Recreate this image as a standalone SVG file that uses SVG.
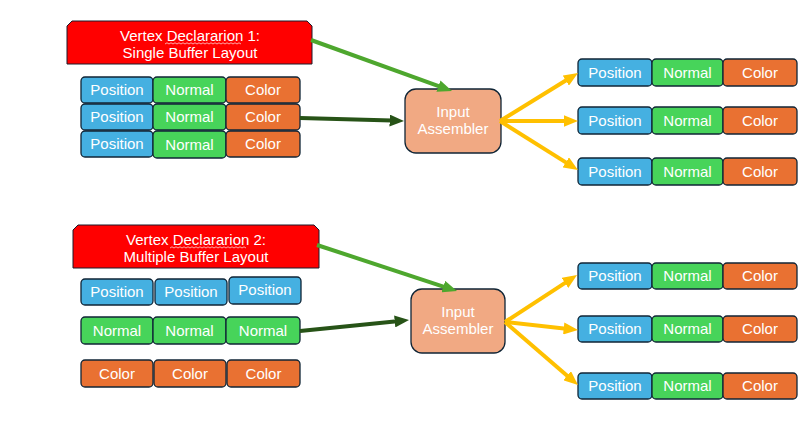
<svg xmlns="http://www.w3.org/2000/svg" width="809" height="430" viewBox="0 0 809 430">
<style>
text{font-family:"Liberation Sans",Arial,sans-serif;font-size:15px;fill:#fff;text-anchor:middle}
.c{stroke:#102536;stroke-width:1.3}
.pos{fill:#45B0E1}.nor{fill:#47D45A}.col{fill:#E97132}
.ban{fill:#FF0000;stroke:#1a1a2a;stroke-width:1}
.ia{fill:#F1A983;stroke:#102536;stroke-width:1.3}
.sq{fill:none;stroke:#ffd0d0;stroke-width:0.8}
.a{fill:none;stroke-width:4}
.g{stroke:#4EA72E}.dg{stroke:#275317}.y{stroke:#FFC000}
</style>
<defs>
<marker id="mg" viewBox="0 0 12 10" refX="2" refY="5" markerWidth="3.6" markerHeight="3" orient="auto"><path d="M0,0 L12,5 L0,10 z" fill="#4EA72E"/></marker>
<marker id="mdg" viewBox="0 0 12 10" refX="2" refY="5" markerWidth="3.6" markerHeight="3" orient="auto"><path d="M0,0 L12,5 L0,10 z" fill="#275317"/></marker>
<marker id="my" viewBox="0 0 12 10" refX="2" refY="5" markerWidth="3.6" markerHeight="3" orient="auto"><path d="M0,0 L12,5 L0,10 z" fill="#FFC000"/></marker>
</defs>
<rect width="809" height="430" fill="#fff"/>

<!-- Top section -->
<g id="decl1">
<path class="ban" d="M72,21 L307,21 L312,26 L312,64 L67,64 L67,26 Z"/>
<text x="190" y="41">Vertex Declararion 1:</text>
<text x="190" y="58">Single Buffer Layout</text>
<path class="sq" d="M165,44 l2,-1.2 l2,1.2 l2,-1.2 l2,1.2 l2,-1.2 l2,1.2 l2,-1.2 l2,1.2 l2,-1.2 l2,1.2 l2,-1.2 l2,1.2 l2,-1.2 l2,1.2 l2,-1.2 l2,1.2 l2,-1.2 l2,1.2 l2,-1.2 l2,1.2 l2,-1.2 l2,1.2 l2,-1.2 l2,1.2 l2,-1.2 l2,1.2 l2,-1.2 l2,1.2 l2,-1.2 l2,1.2 l2,-1.2 l2,1.2 l2,-1.2 l2,1.2 l2,-1.2 l2,1.2 l2,-1.2 l2,1.2"/>
</g>
<g id="buf1">
<rect class="c pos" x="81" y="77" width="72" height="26" rx="4"/><text x="117" y="95">Position</text>
<rect class="c nor" x="153" y="77" width="73" height="26" rx="4"/><text x="189.5" y="95">Normal</text>
<rect class="c col" x="226" y="77" width="74" height="26" rx="4"/><text x="263" y="95">Color</text>
<rect class="c pos" x="81" y="104" width="72" height="26" rx="4"/><text x="117" y="122">Position</text>
<rect class="c nor" x="153" y="104" width="73" height="26" rx="4"/><text x="189.5" y="122">Normal</text>
<rect class="c col" x="226" y="104" width="74" height="26" rx="4"/><text x="263" y="122">Color</text>
<rect class="c pos" x="81" y="131" width="72" height="26" rx="4"/><text x="117" y="149">Position</text>
<rect class="c nor" x="153" y="131" width="73" height="27" rx="4"/><text x="189.5" y="150">Normal</text>
<rect class="c col" x="226" y="131" width="74" height="26" rx="4"/><text x="263" y="149">Color</text>
</g>
<g id="ia1">
<rect class="ia" x="405" y="89" width="96" height="64" rx="11"/>
<text x="453" y="117">Input</text>
<text x="453" y="134">Assembler</text>
</g>
<g id="out1a">
<rect class="c pos" x="578" y="59" width="74" height="27" rx="4"/><text x="615" y="78">Position</text>
<rect class="c nor" x="652" y="59" width="71" height="27" rx="4"/><text x="687.5" y="78">Normal</text>
<rect class="c col" x="723" y="59" width="74" height="27" rx="4"/><text x="760" y="78">Color</text>
</g>
<g id="out1b">
<rect class="c pos" x="578" y="107" width="74" height="27" rx="4"/><text x="615" y="126">Position</text>
<rect class="c nor" x="652" y="107" width="71" height="27" rx="4"/><text x="687.5" y="126">Normal</text>
<rect class="c col" x="723" y="107" width="74" height="27" rx="4"/><text x="760" y="126">Color</text>
</g>
<g id="out1c">
<rect class="c pos" x="578" y="158" width="74" height="27" rx="4"/><text x="615" y="177">Position</text>
<rect class="c nor" x="652" y="158" width="71" height="27" rx="4"/><text x="687.5" y="177">Normal</text>
<rect class="c col" x="723" y="158" width="74" height="27" rx="4"/><text x="760" y="177">Color</text>
</g>

<!-- Bottom section -->
<g id="decl2">
<path class="ban" d="M78,225 L314,225 L319,230 L319,268 L73,268 L73,230 Z"/>
<text x="196" y="245">Vertex Declararion 2:</text>
<text x="196" y="262">Multiple Buffer Layout</text>
<path class="sq" d="M170,248 l2,-1.2 l2,1.2 l2,-1.2 l2,1.2 l2,-1.2 l2,1.2 l2,-1.2 l2,1.2 l2,-1.2 l2,1.2 l2,-1.2 l2,1.2 l2,-1.2 l2,1.2 l2,-1.2 l2,1.2 l2,-1.2 l2,1.2 l2,-1.2 l2,1.2 l2,-1.2 l2,1.2 l2,-1.2 l2,1.2 l2,-1.2 l2,1.2 l2,-1.2 l2,1.2 l2,-1.2 l2,1.2 l2,-1.2 l2,1.2 l2,-1.2 l2,1.2 l2,-1.2 l2,1.2 l2,-1.2 l2,1.2"/>
</g>
<g id="buf2pos">
<rect class="c pos" x="81" y="279" width="72" height="26" rx="4"/><text x="117" y="297">Position</text>
<rect class="c pos" x="155" y="279" width="72" height="26" rx="4"/><text x="191" y="297">Position</text>
<rect class="c pos" x="229" y="277" width="72" height="27" rx="4"/><text x="265" y="295">Position</text>
</g>
<g id="buf2nor">
<rect class="c nor" x="81" y="317" width="72" height="27" rx="4"/><text x="117" y="336">Normal</text>
<rect class="c nor" x="153" y="317" width="73" height="27" rx="4"/><text x="189.5" y="336">Normal</text>
<rect class="c nor" x="226" y="317" width="74" height="27" rx="4"/><text x="263" y="336">Normal</text>
</g>
<g id="buf2col">
<rect class="c col" x="81" y="360" width="72" height="27" rx="4"/><text x="117" y="379">Color</text>
<rect class="c col" x="154" y="360" width="72" height="27" rx="4"/><text x="190" y="379">Color</text>
<rect class="c col" x="227" y="360" width="73" height="27" rx="4"/><text x="263.5" y="379">Color</text>
</g>
<g id="ia2">
<rect class="ia" x="411" y="289" width="94" height="64" rx="11"/>
<text x="458" y="317">Input</text>
<text x="458" y="334">Assembler</text>
</g>
<g id="out2a">
<rect class="c pos" x="578" y="263" width="74" height="26" rx="4"/><text x="615" y="281">Position</text>
<rect class="c nor" x="652" y="263" width="71" height="26" rx="4"/><text x="687.5" y="281">Normal</text>
<rect class="c col" x="723" y="263" width="74" height="26" rx="4"/><text x="760" y="281">Color</text>
</g>
<g id="out2b">
<rect class="c pos" x="578" y="316" width="74" height="26" rx="4"/><text x="615" y="334">Position</text>
<rect class="c nor" x="652" y="316" width="71" height="26" rx="4"/><text x="687.5" y="334">Normal</text>
<rect class="c col" x="723" y="316" width="74" height="26" rx="4"/><text x="760" y="334">Color</text>
</g>
<g id="out2c">
<rect class="c pos" x="578" y="373" width="74" height="26" rx="4"/><text x="615" y="391">Position</text>
<rect class="c nor" x="652" y="373" width="71" height="26" rx="4"/><text x="687.5" y="391">Normal</text>
<rect class="c col" x="723" y="373" width="74" height="26" rx="4"/><text x="760" y="391">Color</text>
</g>

<g id="connectors">
<line class="a g" x1="311" y1="40" x2="440.7" y2="86.9" marker-end="url(#mg)"/>
<line class="a dg" x1="300" y1="118" x2="392" y2="120.6" marker-end="url(#mdg)"/>
<line class="a y" x1="500" y1="121" x2="567.8" y2="79.3" marker-end="url(#my)"/>
<line class="a y" x1="500" y1="121" x2="566" y2="121" marker-end="url(#my)"/>
<line class="a y" x1="500" y1="121" x2="567.8" y2="163.6" marker-end="url(#my)"/>
<line class="a g" x1="317" y1="245" x2="445.6" y2="287.3" marker-end="url(#mg)"/>
<line class="a dg" x1="300" y1="331" x2="397.1" y2="321.2" marker-end="url(#mdg)"/>
<line class="a y" x1="505" y1="322" x2="567" y2="281.6" marker-end="url(#my)"/>
<line class="a y" x1="505" y1="322" x2="566.1" y2="328.7" marker-end="url(#my)"/>
<line class="a y" x1="505" y1="322" x2="568.9" y2="377.2" marker-end="url(#my)"/>
</g>
</svg>
